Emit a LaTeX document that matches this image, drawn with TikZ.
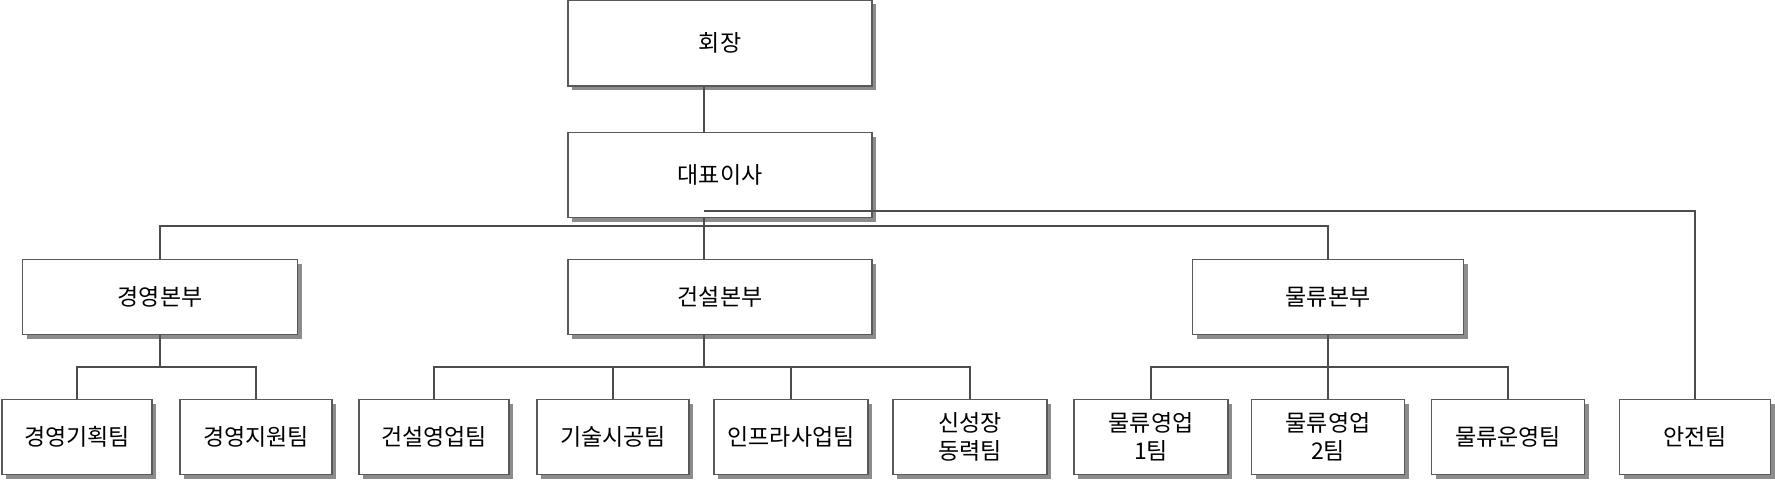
\documentclass[tikz,border=0pt]{standalone}
\usepackage{fontspec}
\setmainfont{Noto Sans CJK KR}
\usetikzlibrary{shadows}
\begin{document}
\begin{tikzpicture}[x=1pt, y=-1pt,
    every node/.style={font=\fontsize{23}{28}\selectfont, inner sep=1pt}]

    \tikzstyle{orgbox}=[rectangle, draw=black!65, line width=1.2pt, fill=white, align=center,
        drop shadow={shadow xshift=4pt, shadow yshift=-4pt, fill=black!45, opacity=1}]
    \tikzstyle{link}=[draw=black!70, line width=1.2pt]

    \useasboundingbox (0,0) rectangle (1775,487);

    % top
    \node[orgbox, minimum width=304pt, minimum height=86pt] (chair) at (720,43) {회장};
    \node[orgbox, minimum width=304pt, minimum height=85pt] (ceo) at (720,175) {대표이사};

    % divisions
    \node[orgbox, minimum width=275pt, minimum height=75pt] (mgmt) at (160,297) {경영본부};
    \node[orgbox, minimum width=304pt, minimum height=75pt] (civil) at (720,297) {건설본부};
    \node[orgbox, minimum width=271pt, minimum height=75pt] (logi) at (1328,297) {물류본부};

    % teams
    \tikzstyle{teambox}=[orgbox, minimum width=152pt, minimum height=75pt]
    \node[teambox, minimum width=150pt] (mt1) at (77,437) {경영기획팀};
    \node[teambox] (mt2) at (256,437) {경영지원팀};
    \node[teambox, minimum width=150pt] (ct1) at (434,437) {건설영업팀};
    \node[teambox] (ct2) at (613,437) {기술시공팀};
    \node[teambox, minimum width=154pt] (ct3) at (791,437) {인프라사업팀};
    \node[teambox, minimum width=154pt] (ct4) at (970,437) {신성장\\동력팀};
    \node[teambox, minimum width=154pt] (lt1) at (1151,437) {물류영업\\1팀};
    \node[teambox, minimum width=153pt] (lt2) at (1328,437) {물류영업\\2팀};
    \node[teambox, minimum width=153pt] (lt3) at (1508,437) {물류운영팀};
    \node[teambox, minimum width=151pt] (safe) at (1695,437) {안전팀};

    % connectors
    \coordinate (b0) at (704,211);
    \coordinate (b1) at (704,226);
    \coordinate (m3) at (160,367);
    \coordinate (c3) at (704,367);
    \coordinate (l3) at (1328,367);

    \draw[link] (chair.south -| b0) -- (ceo.north -| b0);
    \draw[link] (ceo.south -| b0) -- (civil.north -| b0);
    \draw[link] (mgmt.north) |- (b1) -| (logi.north);
    \draw[link] (b0) -| (safe.north);

    \draw[link] (mgmt.south) -- (m3);
    \draw[link] (mt1.north) |- (m3) -| (mt2.north);

    \draw[link] (civil.south -| c3) -- (c3);
    \draw[link] (ct1.north) |- (c3) -| (ct4.north);
    \draw[link] (ct2.north) -- (ct2.north |- c3);
    \draw[link] (ct3.north) -- (ct3.north |- c3);

    \draw[link] (logi.south) -- (lt2.north);
    \draw[link] (lt1.north) |- (l3) -| (lt3.north);

\end{tikzpicture}
\end{document}
